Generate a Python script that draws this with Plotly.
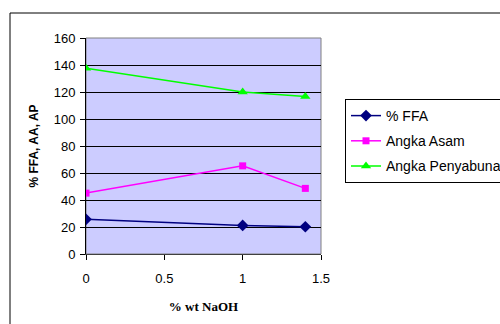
import plotly.graph_objects as go

x_naoh = [0, 1, 1.4]
ffa = [25.7, 21.2, 20.2]
angka_asam = [45.1, 65.3, 48.6]
angka_peny = [137.6, 120.0, 116.6]
series_names = ["% FFA", "Angka Asam", "Angka Penyabunan"]
y_ticks = [0, 20, 40, 60, 80, 100, 120, 140, 160]
x_ticks = [0, 0.5, 1, 1.5]

L, R, T, B = 86, 179, 38, 70
W, H = 500, 324
pw, ph = W - L - R, H - T - B

fig = go.Figure()
fig.add_trace(go.Scatter(x=x_naoh, y=ffa, name=series_names[0], mode="lines+markers",
                         legendgroup="a",
                         line=dict(color="#000080", width=1.5),
                         marker=dict(symbol="diamond", size=9, color="#000080")))
fig.add_trace(go.Scatter(x=x_naoh, y=angka_asam, name=series_names[1], mode="lines+markers",
                         legendgroup="b",
                         line=dict(color="#FF00FF", width=1.5),
                         marker=dict(symbol="square", size=7, color="#FF00FF")))
fig.add_trace(go.Scatter(x=x_naoh, y=angka_peny, name=series_names[2], mode="lines+markers",
                         legendgroup="c",
                         line=dict(color="#00FF00", width=1.5),
                         marker=dict(symbol="triangle-up", size=9, color="#00FF00")))

def px_x(p):
    return (p - L) / pw

def px_y(p):
    return (H - B - p) / ph

fig.update_layout(
    width=W, height=H,
    margin=dict(l=L, r=R, t=T, b=B, autoexpand=False),
    paper_bgcolor="white",
    plot_bgcolor="#CCCCFF",
    font=dict(family="Liberation Sans, Arial, sans-serif", color="black", size=13),
    showlegend=True,
    legend=dict(x=px_x(345), y=px_y(99), xanchor="left", yanchor="top",
                bordercolor="black", borderwidth=1, bgcolor="white",
                font=dict(size=14), traceorder="grouped", tracegroupgap=4),
    xaxis=dict(range=[0, 1.5], tickvals=x_ticks, ticktext=["0", "0.5", "1", "1.5"],
               showgrid=False, zeroline=False, showline=True, linecolor="#404040",
               linewidth=1, ticks="outside", ticklen=5, tickcolor="black",
               tickfont=dict(size=13), ticklabelstandoff=7,
               title=dict(text="<b>% wt NaOH</b>",
                          font=dict(family="Liberation Serif, Times New Roman, serif", size=13),
                          standoff=17)),
    yaxis=dict(range=[0, 160], tickvals=y_ticks, showgrid=True, gridcolor="black",
               gridwidth=1, zeroline=False, showline=True, linecolor="black",
               linewidth=1, ticks="outside", ticklen=5, tickcolor="black",
               tickfont=dict(size=13), ticklabelstandoff=2,
               title=dict(text="<b>% FFA, AA, AP</b>", font=dict(size=12), standoff=12)),
    shapes=[
        dict(type="rect", xref="paper", yref="paper", x0=0, x1=1, y0=0, y1=1,
             line=dict(color="#808080", width=1), fillcolor="rgba(0,0,0,0)", layer="below"),
        dict(type="rect", xref="paper", yref="paper", x0=px_x(10), x1=px_x(520),
             y0=px_y(340), y1=px_y(13), line=dict(color="black", width=1),
             fillcolor="rgba(0,0,0,0)"),
    ],
)

fig.write_html("out.html")
